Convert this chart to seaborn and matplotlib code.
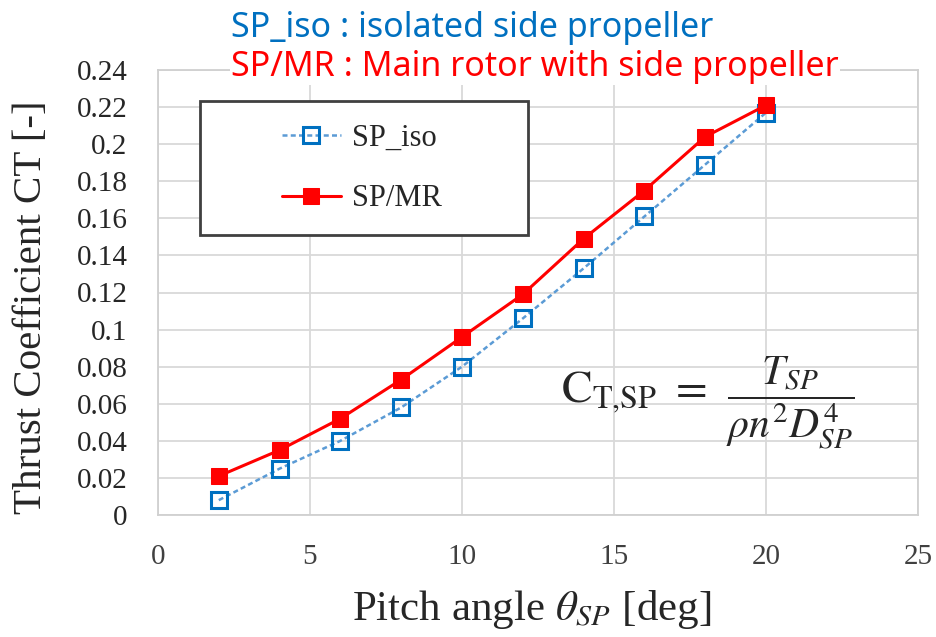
import matplotlib
matplotlib.use("Agg")
import matplotlib.pyplot as plt
from matplotlib.patches import Rectangle
from matplotlib.ticker import FuncFormatter
import numpy as np
import pandas as pd
import seaborn as sns

# Side-propeller thrust coefficient versus pitch angle
pitch_deg = [2, 4, 6, 8, 10, 12, 14, 16, 18, 20]
ct_sp_iso = [0.008, 0.025, 0.040, 0.058, 0.080, 0.106, 0.133, 0.161, 0.189, 0.217]
ct_sp_mr = [0.021, 0.035, 0.052, 0.073, 0.096, 0.119, 0.149, 0.175, 0.204, 0.221]
series_names = ["SP_iso", "SP/MR"]
x_ticks = [0, 5, 10, 15, 20, 25]
y_ticks = [0, 0.02, 0.04, 0.06, 0.08, 0.1, 0.12, 0.14, 0.16, 0.18, 0.2, 0.22, 0.24]

df = pd.DataFrame({
    "pitch": pitch_deg * 2,
    "ct": ct_sp_iso + ct_sp_mr,
    "case": [series_names[0]] * len(pitch_deg) + [series_names[1]] * len(pitch_deg),
})

sns.set_theme(style="white")
plt.rcParams["font.family"] = ["Liberation Serif", "DejaVu Serif"]
plt.rcParams["mathtext.fontset"] = "stix"

W, H = 937, 637
fig = plt.figure(figsize=(W / 100, H / 100), dpi=100)
ax = fig.add_axes([158 / W, 1 - 515 / H, 760 / W, 445 / H])

blue_line = "#5B9BD5"
blue_edge = "#0070C0"
red = "#FF0000"

iso = df[df["case"] == series_names[0]]
mr = df[df["case"] == series_names[1]]

sns.lineplot(data=iso, x="pitch", y="ct", ax=ax, color=blue_line, lw=1.8,
             linestyle=(0, (2.0, 1.3)), marker="s", markersize=11,
             markerfacecolor="none", markeredgecolor=blue_edge,
             markeredgewidth=2.2, label=series_names[0], zorder=3)
sns.lineplot(data=mr, x="pitch", y="ct", ax=ax, color=red, lw=2.2,
             marker="s", markersize=11, markerfacecolor=red,
             markeredgecolor=red, label=series_names[1], zorder=4)

ax.set_xlim(0, 25)
ax.set_ylim(0, 0.24)
ax.set_xticks(x_ticks)
ax.set_yticks(y_ticks)
ax.yaxis.set_major_formatter(FuncFormatter(lambda v, p: f"{v:g}"))
ax.tick_params(axis="both", length=0, colors="#262626")
ax.tick_params(axis="x", pad=21, labelsize=21, colors="#404040")
ax.tick_params(axis="y", pad=22, labelsize=21)
ax.grid(True, color="#D9D9D9", lw=1.3)
for s in ax.spines.values():
    s.set_color("#D0D0D0")
    s.set_linewidth(1.3)

ax.set_xlabel(r"Pitch angle $\theta_{SP}$ [deg]", fontsize=31)
ax.xaxis.set_label_coords(0.492, -0.163)
ax.set_ylabel("Thrust Coefficient CT [-]", fontsize=29.5)
ax.yaxis.set_label_coords(-0.142, 0.467)

# Legend box
box = Rectangle((200 / W, 1 - 235 / H), 328 / W, 134 / H,
                transform=fig.transFigure, facecolor="white",
                edgecolor="#404040", lw=2.0, zorder=5)
ax.add_patch(box)
box.set_clip_on(False)
leg = ax.legend(loc="center", bbox_to_anchor=(0.268, 0.779), frameon=False,
                fontsize=22, handlelength=1.95, handletextpad=0.35,
                labelspacing=1.05)
leg.set_zorder(6)

# Formula for the thrust coefficient
fig.text(707 / W, 1 - 402 / H, r"$\mathrm{C_{T{,}SP}}\ =$",
         fontsize=33, ha="right", va="baseline")
fig.text(790 / W, 1 - 403 / H, r"$\dfrac{T_{SP}}{\rho n^{2} D_{SP}^{4}}$",
         fontsize=30, ha="center", va="center")

# Series descriptions above the plot
fig.text(231 / W, 1 - 28 / H, "SP_iso : isolated side propeller",
         color="#0070C0", fontsize=24.5, family=["Noto Sans", "DejaVu Sans"],
         ha="left", va="center")
fig.text(231 / W, 1 - 67 / H, "SP/MR : Main rotor with side propeller",
         color="#FF0000", fontsize=24.5, family=["Noto Sans", "DejaVu Sans"],
         ha="left", va="center",
         bbox=dict(facecolor="white", edgecolor="none", pad=1))

fig.savefig("out.png", dpi=100)
